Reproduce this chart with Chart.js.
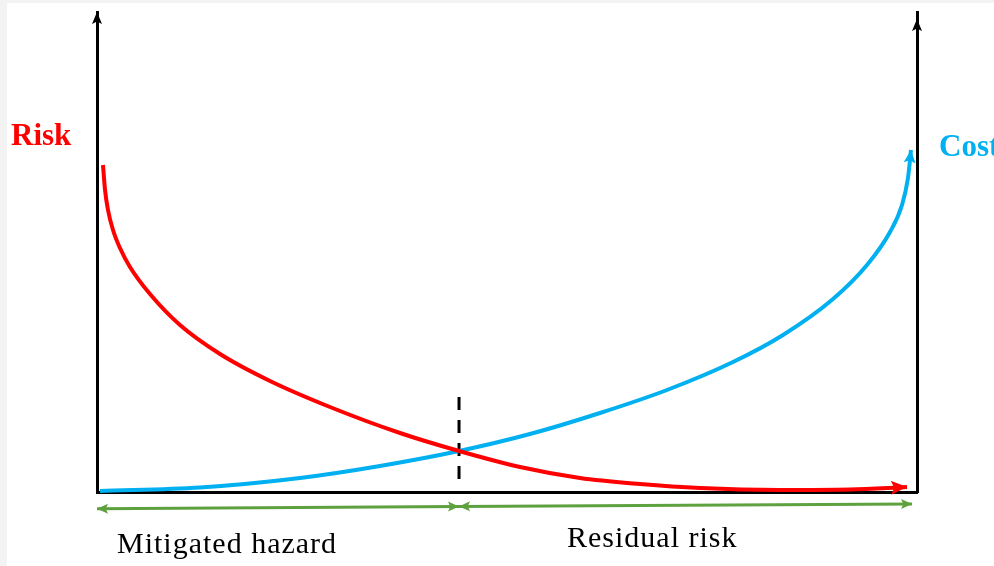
<!DOCTYPE html>
<html><head><meta charset="utf-8">
<script src="https://cdn.jsdelivr.net/npm/chart.js@4"></script>
<style>html,body{margin:0;padding:0;background:#f3f3f3;overflow:hidden}
canvas{display:block}</style></head>
<body><canvas id="c" width="994" height="566"></canvas>
<script>
// Risk curve (decreasing) and cost curve (increasing), arbitrary units 0-100
const riskX = [0.73, 0.98, 1.34, 1.95, 2.80, 4.02, 6.46, 10.12, 15.00, 21.10, 28.41, 36.95, 44.15, 51.59, 58.90, 66.22, 73.54, 83.29, 91.83, 98.78];
const riskY = [68.13, 62.92, 58.75, 54.58, 50.83, 46.88, 41.25, 34.79, 28.75, 23.13, 17.71, 12.29, 8.54, 5.21, 2.92, 1.67, 0.83, 0.42, 0.52, 1.04];
const costX = [0.37, 12.56, 24.76, 34.51, 44.15, 52.80, 61.34, 69.51, 77.56, 83.66, 89.76, 93.90, 96.71, 98.17, 98.90, 99.27];
const costY = [0.21, 0.94, 2.92, 5.42, 8.54, 12.08, 16.46, 21.25, 27.08, 32.71, 40.21, 47.29, 54.17, 59.79, 65.42, 71.25];
// Dashed split marker
const splitX = [44.15, 44.15];
const splitY = [19.8, 1.5];
// Green span arrows below the axis
const spanX = [0, 44.15, 99.4];
const spanY = [-3.5, -3.0, -2.5];
const spanLabels = ['Mitigated hazard', 'Residual risk'];
const axisLabels = ['Risk', 'Cost'];

const RED = '#ff0000', BLUE = '#00b0f0', GREEN = '#5ea13f';
const pts = (xs, ys) => xs.map((x, i) => ({x: x, y: ys[i]}));

function head(ctx, tx, ty, fx, fy, len, hw, color) {
  const a = Math.atan2(ty - fy, tx - fx);
  ctx.save();
  ctx.translate(tx, ty); ctx.rotate(a);
  ctx.fillStyle = color;
  ctx.beginPath();
  ctx.moveTo(0, 0); ctx.lineTo(-len, -hw); ctx.lineTo(-len * 0.8, 0); ctx.lineTo(-len, hw);
  ctx.closePath(); ctx.fill();
  ctx.restore();
}

const deco = {
  id: 'deco',
  beforeDraw(chart) {
    const ctx = chart.ctx;
    ctx.save();
    ctx.fillStyle = '#f3f3f3'; ctx.fillRect(0, 0, chart.width, chart.height);
    ctx.fillStyle = '#ffffff'; ctx.fillRect(7, 3, chart.width - 7, chart.height - 3);
    ctx.restore();
  },
  afterDatasetsDraw(chart) {
    const ctx = chart.ctx;
    chart.data.datasets.forEach((ds, i) => {
      const d = chart.getDatasetMeta(i).data;
      const n = d.length;
      if (ds.arrowEnd) head(ctx, d[n-1].x, d[n-1].y, d[n-2].x, d[n-2].y, ds.arrowEnd[0], ds.arrowEnd[1], ds.borderColor);
      if (ds.arrowStart) head(ctx, d[0].x, d[0].y, d[1].x, d[1].y, ds.arrowStart[0], ds.arrowStart[1], ds.borderColor);
    });
    const ca = chart.chartArea;
    head(ctx, ca.left, ca.top, ca.left, ca.top + 20, 12, 5, '#000');
    head(ctx, ca.right, ca.top + 7, ca.right, ca.top + 27, 12, 5, '#000');
  },
  afterDraw(chart) {
    const ctx = chart.ctx;
    ctx.save();
    ctx.textBaseline = 'alphabetic';
    ctx.textAlign = 'left';
    ctx.font = 'bold 31px "Liberation Serif"';
    ctx.fillStyle = RED;
    ctx.fillText(axisLabels[0], 11, 145);
    ctx.fillStyle = BLUE;
    ctx.fillText(axisLabels[1], 939, 156);
    ctx.font = '30px "Liberation Serif"';
    ctx.letterSpacing = '1px';
    ctx.fillStyle = '#000';
    ctx.fillText(spanLabels[0], 117, 553);
    ctx.fillText(spanLabels[1], 567, 547);
    ctx.restore();
  }
};

const hidden = {grid: {display: false, drawTicks: false}, ticks: {display: false}, border: {display: true, color: '#000', width: 3}};

new Chart(document.getElementById('c'), {
  type: 'scatter',
  data: {
    datasets: [
      {data: pts(riskX, riskY), showLine: true, borderColor: RED, borderWidth: 4, pointRadius: 0, cubicInterpolationMode: 'monotone', clip: false, arrowEnd: [16, 7]},
      {data: pts(costX, costY), showLine: true, borderColor: BLUE, borderWidth: 4, pointRadius: 0, cubicInterpolationMode: 'monotone', clip: false, arrowEnd: [13, 6]},
      {data: pts(splitX, splitY), showLine: true, borderColor: '#000', borderWidth: 3, borderDash: [13, 10], pointRadius: 0, clip: false},
      {data: pts(spanX.slice(0, 2), spanY.slice(0, 2)), showLine: true, borderColor: GREEN, borderWidth: 3, pointRadius: 0, clip: false, arrowEnd: [11, 5], arrowStart: [11, 5]},
      {data: pts(spanX.slice(1, 3), spanY.slice(1, 3)), showLine: true, borderColor: GREEN, borderWidth: 3, pointRadius: 0, clip: false, arrowEnd: [11, 5], arrowStart: [11, 5]}
    ]
  },
  options: {
    responsive: false, animation: false,
    layout: {padding: {left: 97, right: 77, top: 12, bottom: 74}},
    plugins: {legend: {display: false}, tooltip: {enabled: false}},
    scales: {
      x: Object.assign({type: 'linear', min: 0, max: 100, position: 'bottom', afterFit(s) { s.height = 0; }}, hidden),
      y: Object.assign({type: 'linear', min: 0, max: 100, position: 'left', afterFit(s) { s.width = 0; }}, hidden),
      y2: Object.assign({type: 'linear', min: 0, max: 100, position: 'right', afterFit(s) { s.width = 0; }}, hidden)
    }
  },
  plugins: [deco]
});
</script></body></html>
